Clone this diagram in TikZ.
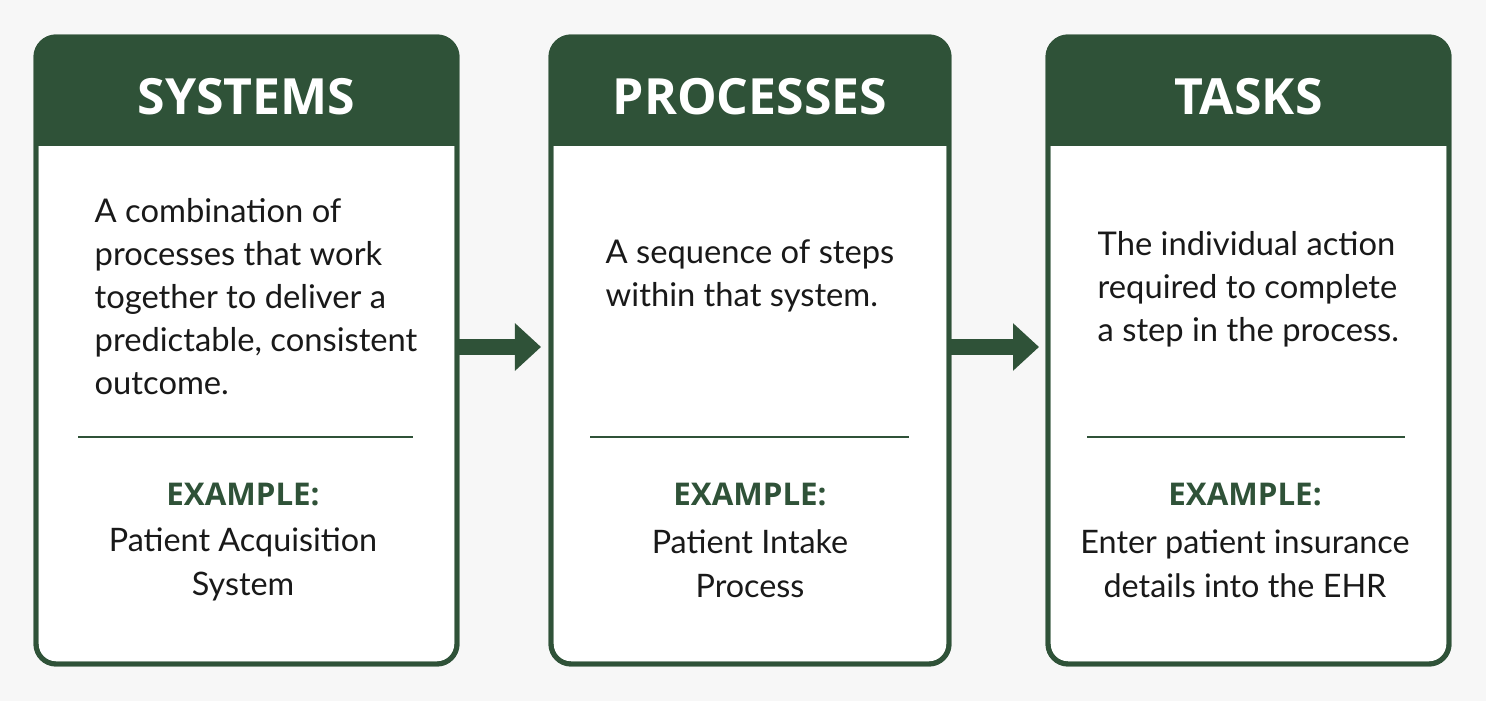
\documentclass[tikz,border=0pt]{standalone}
\usepackage{fontspec}
\setmainfont{Lato}
\newfontfamily\hdfont{Open Sans}
\usetikzlibrary{arrows.meta}
\definecolor{dg}{HTML}{2F5238}
\begin{document}
\begin{tikzpicture}[x=0.01cm,y=-0.01cm,
  card/.style={draw=dg,line width=1.4pt,rounded corners=0.2cm,fill=white},
  ttl/.style={text=white,font=\hdfont\bfseries\fontsize{14.2}{17}\selectfont},
  body/.style={anchor=north west,align=left,font=\fontsize{9.3}{12.2}\selectfont,text=black!90,inner sep=0pt},
  sep/.style={draw=dg,line width=0.7pt},
  ex/.style={text=dg,font=\hdfont\bfseries\fontsize{8.9}{11}\selectfont},
  exv/.style={align=center,font=\fontsize{9.2}{12.5}\selectfont,text=black!90},
  conn/.style={dg,line width=0.16cm,-{Triangle[length=0.26cm,width=0.46cm]}}]
\useasboundingbox (0,0) rectangle (1486,701);
\fill[white!97!black] (0,0) rectangle (1486,701);
\foreach \n/\xa/\xb/\t in {a/36/457/SYSTEMS,b/551/949/PROCESSES,c/1048/1449/TASKS}{
  \path[card] (\xa,37) rectangle (\xb,664);
  \begin{scope}
  \clip[rounded corners=0.2cm] (\xa,37) rectangle (\xb,664);
  \fill[dg] (\xa,37) rectangle (\xb,146);
  \end{scope}
  \draw[card,fill=none] (\xa,37) rectangle (\xb,664);
  \node[ttl] (\n t) at ({(\xa+\xb)/2},97) {\t};
}
\node[coordinate] (aE) at (457,347) {};
\node[coordinate] (bW) at (541,347) {};
\node[coordinate] (bE) at (949,347) {};
\node[coordinate] (cW) at (1039,347) {};
\draw[conn] (aE) -- (bW);
\draw[conn] (bE) -- (cW);
\node[body] (ab) at (94,198) {A combination of\\processes that work\\together to deliver a\\predictable, consistent\\outcome.};
\node[body] (bb) at (605,239) {A sequence of steps\\within that system.};
\node[body] (cb) at (1097,231) {The individual action\\required to complete\\a step in the process.};
\draw[sep] (78,437) -- (413,437);
\draw[sep] (590,437) -- (909,437);
\draw[sep] (1087,437) -- (1405,437);
\node[ex] (ae) at (243,494) {EXAMPLE:};
\node[ex] (be) at (750,494) {EXAMPLE:};
\node[ex] (ce) at (1245,494) {EXAMPLE:};
\node[exv] (av) at (243,564) {Patient Acquisition\\System};
\node[exv] (bv) at (750,564) {Patient Intake\\Process};
\node[exv] (cv) at (1245,564) {Enter patient insurance\\details into the EHR};
\end{tikzpicture}
\end{document}
